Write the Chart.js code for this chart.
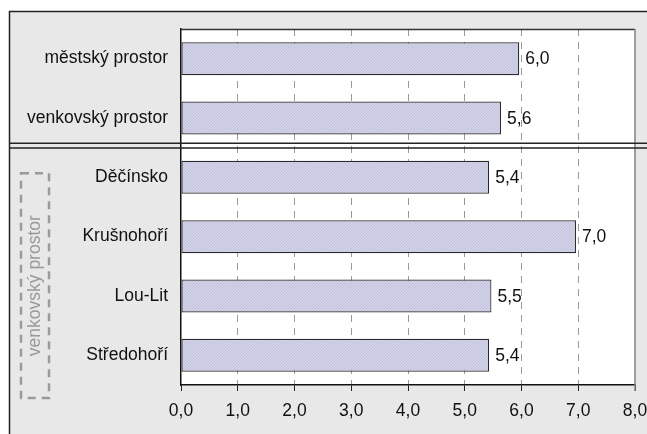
<!DOCTYPE html>
<html><head><meta charset="utf-8">
<script src="https://cdn.jsdelivr.net/npm/chart.js@4"></script>
<style>html,body{margin:0;padding:0;background:#fff;overflow:hidden;} canvas{display:block;}</style>
</head><body>
<canvas id="c" width="647" height="434"></canvas>
<script>
const categories = ['městský prostor', 'venkovský prostor', 'Děčínsko', 'Krušnohoří', 'Lou-Lit', 'Středohoří'];
const values = [5.96, 5.64, 5.43, 6.96, 5.47, 5.43];
const xTicks = [0, 1, 2, 3, 4, 5, 6, 7, 8];
const groupLabel = 'venkovský prostor';
const FONT = '"Liberation Sans", Arial, sans-serif';
const FS = 17.5;

const canvas = document.getElementById('c');
const mainCtx = canvas.getContext('2d');

function makePattern() {
  const p = document.createElement('canvas');
  p.width = 3; p.height = 3;
  const g = p.getContext('2d');
  g.fillStyle = '#d2d2e9';
  g.fillRect(0, 0, 3, 3);
  g.fillStyle = '#c0c0dc';
  for (let i = 0; i < 3; i++) g.fillRect(i, 2 - i, 1, 1);
  return mainCtx.createPattern(p, 'repeat');
}
const fmt = v => v.toFixed(1).replace('.', ',');

const deco = {
  id: 'deco',
  beforeDraw(chart) {
    const { ctx, chartArea: a, width, height } = chart;
    ctx.save();
    ctx.fillStyle = '#fff';
    ctx.fillRect(0, 0, width, height);
    ctx.fillStyle = '#e8e8e8';
    ctx.fillRect(9, 11, width - 9, height - 11);
    ctx.strokeStyle = '#222';
    ctx.lineWidth = 1.5;
    ctx.beginPath();
    ctx.moveTo(9.5, height); ctx.lineTo(9.5, 11.5); ctx.lineTo(width, 11.5);
    ctx.stroke();
    ctx.fillStyle = '#fff';
    ctx.fillRect(a.left, a.top, a.right - a.left, a.bottom - a.top);
    ctx.restore();
  },
  afterDatasetsDraw(chart) {
    const { ctx } = chart;
    const meta = chart.getDatasetMeta(0);
    ctx.save();
    ctx.font = FS + 'px ' + FONT;
    ctx.fillStyle = '#111';
    ctx.textBaseline = 'middle';
    ctx.textAlign = 'left';
    meta.data.forEach((bar, i) => {
      ctx.fillText(fmt(values[i]), bar.x + 6, bar.y + 1);
    });
    ctx.restore();
  },
  afterDraw(chart) {
    const { ctx, chartArea: a, width, scales } = chart;
    const ys = scales.y;
    ctx.save();
    ctx.strokeStyle = '#333';
    ctx.lineWidth = 1.5;
    ctx.beginPath(); ctx.moveTo(a.left, a.top + 0.5); ctx.lineTo(a.right, a.top + 0.5); ctx.stroke();
    ctx.strokeStyle = '#808080';
    ctx.lineWidth = 1.5;
    ctx.beginPath(); ctx.moveTo(a.right, a.top); ctx.lineTo(a.right, a.bottom + 6); ctx.stroke();
    const sep = (ys.getPixelForValue(1) + ys.getPixelForValue(2)) / 2 - 2;
    ctx.strokeStyle = '#222';
    ctx.lineWidth = 1.5;
    [sep - 2.3, sep + 2.3].forEach(y => {
      ctx.beginPath(); ctx.moveTo(9, y); ctx.lineTo(width, y); ctx.stroke();
    });
    const top = ys.getPixelForValue(2) - 4;
    const bottom = a.bottom + 13;
    ctx.strokeStyle = '#9a9a9a';
    ctx.lineWidth = 2.5;
    ctx.setLineDash([8, 6]);
    ctx.strokeRect(21, top, 28, bottom - top);
    ctx.setLineDash([]);
    ctx.translate(35, (top + bottom) / 2);
    ctx.rotate(-Math.PI / 2);
    ctx.font = FS + 'px ' + FONT;
    ctx.fillStyle = '#999';
    ctx.textAlign = 'center';
    ctx.textBaseline = 'middle';
    ctx.fillText(groupLabel, 0, 0);
    ctx.restore();
  }
};

new Chart(canvas, {
  type: 'bar',
  data: {
    labels: categories,
    datasets: [{
      data: values,
      backgroundColor: makePattern(),
      borderColor: '#2a2a2a',
      borderWidth: 1.2,
      borderSkipped: false,
      barPercentage: 0.555,
      categoryPercentage: 1.0
    }]
  },
  options: {
    indexAxis: 'y',
    responsive: false,
    animation: false,
    devicePixelRatio: 1,
    layout: { padding: { top: 29, right: 12, left: 0, bottom: 0 } },
    plugins: { legend: { display: false }, tooltip: { enabled: false } },
    scales: {
      x: {
        min: 0, max: 8,
        afterBuildTicks: s => { s.ticks = xTicks.map(v => ({ value: v })); },
        ticks: {
          callback: v => fmt(v),
          font: { family: FONT, size: FS },
          color: '#111',
          padding: 10,
          maxRotation: 0,
          autoSkip: false
        },
        grid: {
          color: c => (c.tick && (c.tick.value === 0 || c.tick.value === 8)) ? 'rgba(0,0,0,0)' : '#9a9a9a',
          tickColor: '#222',
          tickLength: 6,
          lineWidth: 1
        },
        border: { color: '#111', width: 1.5, dash: [7, 6] },
        afterFit: s => { s.height = 49; s.paddingLeft = 0; s.paddingRight = 0; }
      },
      y: {
        grid: { display: false },
        border: { color: '#111', width: 1.5 },
        ticks: { font: { family: FONT, size: FS }, color: '#111', padding: 5 },
        afterFit: s => { s.width = 181; s.paddingTop = 0; s.paddingBottom = 0; }
      }
    }
  },
  plugins: [deco]
});
</script>
</body></html>
